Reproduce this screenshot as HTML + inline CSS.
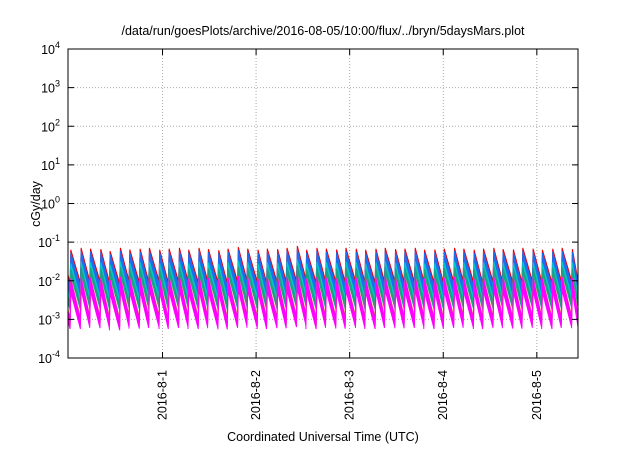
<!DOCTYPE html>
<html><head><meta charset="utf-8"><style>
body{margin:0;background:#fff;font-family:"Liberation Sans",sans-serif}
svg text{font-family:"Liberation Sans",sans-serif;fill:#000}
</style></head><body>
<svg id="c" width="640" height="448">
<rect width="640" height="448" fill="#fff"/>
<text x="323" y="35" font-size="12.5" text-anchor="middle">/data/run/goesPlots/archive/2016-08-05/10:00/flux/../bryn/5daysMars.plot</text>
<text x="323" y="441" font-size="12.5" text-anchor="middle">Coordinated Universal Time (UTC)</text>
<text transform="translate(40,204) rotate(-90)" font-size="12.5" text-anchor="middle">cGy/day</text>
<g id="grid"></g><g id="series"></g><g id="axes"></g>
</svg>
<script>
const dateLabels=["2016-8-1","2016-8-2","2016-8-3","2016-8-4","2016-8-5"];
const dateValues=[0,1,2,3,4];
const yExponents=[4,3,2,1,0,-1,-2,-3,-4];
const spikeTimes=[-0.98,-0.87,-0.77,-0.66,-0.56,-0.45,-0.35,-0.24,-0.14,-0.03,0.07,0.18,0.28,0.39,0.49,0.60,0.70,0.81,0.91,1.02,1.12,1.23,1.33,1.44,1.54,1.65,1.75,1.86,1.96,2.07,2.17,2.28,2.38,2.49,2.59,2.70,2.80,2.91,3.01,3.12,3.22,3.33,3.43,3.54,3.64,3.75,3.85,3.96,4.06,4.17,4.27,4.38];
const spikePeaks=[-1.25,-1.2,-1.22,-1.23,-1.28,-1.2,-1.24,-1.22,-1.2,-1.25,-1.22,-1.2,-1.25,-1.2,-1.23,-1.26,-1.22,-1.18,-1.22,-1.25,-1.22,-1.23,-1.2,-1.15,-1.25,-1.2,-1.22,-1.24,-1.2,-1.22,-1.25,-1.22,-1.2,-1.23,-1.22,-1.2,-1.25,-1.24,-1.22,-1.2,-1.22,-1.25,-1.22,-1.2,-1.23,-1.24,-1.2,-1.22,-1.25,-1.22,-1.2,-1.23];
const seriesColors=["#e8000b","#1e6cf0","#00c8c8","#20a080","#e0c000","#a0522d","#ff00ff"];
const seriesPeakTop=[0.05,-0.03,-0.3,-0.45,-0.7,-0.75,-0.7];
const seriesPeakBot=[-0.1,-0.3,-0.5,-0.6,-0.85,-0.9,-1.05];
const seriesTroughTop=[-0.8,-0.9,-1.2,-1.35,-1.7,-1.75,-1.75];
const seriesTroughBot=[-0.9,-1.2,-1.4,-1.5,-1.9,-1.9,-2.0];
const X0=68,X1=578,Y0=49,Y1=358,T0=-1.01,T1=4.44;
const xs=t=>X0+(t-T0)/(T1-T0)*(X1-X0);
const ys=e=>Y0+(4-e)/8*(Y1-Y0);
const NS="http://www.w3.org/2000/svg";
function mk(tag,attrs,parent){const e=document.createElementNS(NS,tag);for(const k in attrs)e.setAttribute(k,attrs[k]);parent.appendChild(e);return e;}
const grid=document.getElementById('grid'),axes=document.getElementById('axes'),ser=document.getElementById('series');
yExponents.forEach(e=>{
 const y=ys(e);
 if(e>-4&&e<4){const g=mk('line',{x1:X0,x2:X1,y1:y,y2:y,stroke:'#aaa','stroke-dasharray':'1,2','stroke-width':1},grid);
 
 }
 const tk=mk('path',{d:`M${X0},${y}h6M${X1},${y}h-6`,stroke:'#000'},axes);
 
 
 const t=mk('text',{x:X0-8,y:y+5,'font-size':12.5,'text-anchor':'end'},axes);
 
 
 t.innerHTML='10<tspan dy="-6" font-size="9">'+e+'</tspan>';
});
dateValues.forEach((d,i)=>{
 const x=xs(d);
 const g=mk('line',{x1:x,x2:x,y1:Y0,y2:Y1,stroke:'#aaa','stroke-dasharray':'1,2'},grid);
 
 
 const tk=mk('path',{d:`M${x},${Y1}v-6M${x},${Y0}v6`,stroke:'#000'},axes);
 
 
 const t=mk('text',{transform:`translate(${x+4},${Y1+12}) rotate(-90)`,'font-size':12.5,'text-anchor':'end'},axes);
 
 
 t.textContent=dateLabels[i];
});
const fr=mk('rect',{x:X0,y:Y0,width:X1-X0,height:Y1-Y0,fill:'none',stroke:'#000'},axes);


function edge(pk,tr){
 const pts=[];
 pts.push([T0,spikePeaks[0]+tr+0.2]);
 for(let i=0;i<spikeTimes.length;i++){
  const t=spikeTimes[i],tn=i+1<spikeTimes.length?spikeTimes[i+1]:T1+0.01;
  pts.push([t-0.008,spikePeaks[i]+tr]);
  pts.push([t,spikePeaks[i]+pk]);
  const end=Math.min(tn-0.008,T1);
  const frac=(end-t)/(tn-0.008-t);
  pts.push([end,spikePeaks[i]+pk+(tr-pk)*frac]);
 }
 return pts;
}
seriesColors.forEach((c,s)=>{
 const up=edge(seriesPeakTop[s],seriesTroughTop[s]);
 const lo=edge(seriesPeakBot[s],seriesTroughBot[s]).reverse();
 const d='M'+up.concat(lo).map(p=>xs(Math.max(T0,Math.min(T1,p[0]))).toFixed(1)+','+ys(p[1]).toFixed(1)).join('L')+'Z';
 const p=mk('path',{d:d,fill:c,stroke:c,'stroke-width':1},ser);
 
 
});
</script>
</body></html>
